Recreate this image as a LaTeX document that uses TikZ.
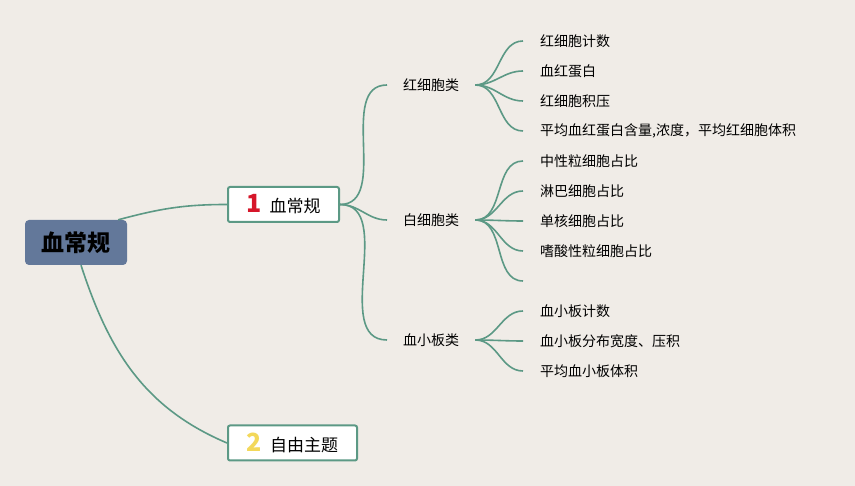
\documentclass[tikz,border=0pt]{standalone}
\usepackage{fontspec}
\setmainfont{Noto Sans CJK SC}
\usetikzlibrary{positioning}

\definecolor{bgpaper}{RGB}{240,236,231}
\definecolor{rootblue}{RGB}{99,120,154}
\definecolor{linegreen}{RGB}{92,153,133}
\definecolor{numred}{RGB}{214,22,42}
\definecolor{numyellow}{RGB}{243,216,90}

\begin{document}
\begin{tikzpicture}[
    x = 1pt, y = 1pt,
    branch/.style = {draw=linegreen, line width=1.6pt},
    rootbox/.style = {rectangle, rounded corners=4pt, fill=rootblue, minimum width=102pt, minimum height=45pt, font=\fontsize{23}{23}\selectfont\bfseries},
    topicbox/.style = {rectangle, rounded corners=2pt, draw=linegreen, line width=2pt, fill=white, minimum height=35pt, anchor=west, font=\fontsize{17}{17}\selectfont},
    catnode/.style = {inner xsep=16pt, inner ysep=2pt, anchor=west, font=\fontsize{14}{14}\selectfont},
    leafnode/.style = {inner xsep=17pt, inner ysep=2pt, anchor=west, font=\fontsize{14}{14}\selectfont}
]
    % Background
    \fill[bgpaper] (0,0) rectangle (855,486);
    \useasboundingbox (0,0) rectangle (855,486);

    % Root
    \node[rootbox] (root) at (76,243.5) {血常规};

    % Main topics
    \node[topicbox, minimum width=111pt] (topic1) at (227,281.5) {{\fontsize{25}{25}\selectfont\bfseries\color{numred}1}\hspace{8pt}血常规};
    \node[topicbox, minimum width=129pt] (topic2) at (227,43) {{\fontsize{25}{25}\selectfont\bfseries\color{numyellow}2}\hspace{8pt}自由主题};

    % Categories
    \node[catnode] (red) at (387,401) {红细胞类};
    \node[catnode] (white) at (387,266) {白细胞类};
    \node[catnode] (plt) at (387,146) {血小板类};

    % Red cell items
    \node[leafnode] (r1) at (523,445) {红细胞计数};
    \node[leafnode] (r2) at (523,415) {血红蛋白};
    \node[leafnode] (r3) at (523,385) {红细胞积压};
    \node[leafnode] (r4) at (523,355) {平均血红蛋白含量,浓度，平均红细胞体积};

    % White cell items
    \node[leafnode] (w1) at (523,325) {中性粒细胞占比};
    \node[leafnode] (w2) at (523,295) {淋巴细胞占比};
    \node[leafnode] (w3) at (523,265) {单核细胞占比};
    \node[leafnode] (w4) at (523,235) {嗜酸性粒细胞占比};
    \coordinate (w5) at (523,205);

    % Platelet items
    \node[leafnode] (p1) at (523,175) {血小板计数};
    \node[leafnode] (p2) at (523,145) {血小板分布宽度、压积};
    \node[leafnode] (p3) at (523,115) {平均血小板体积};

    % Branches
    \draw[branch] ([xshift=-9pt]root.north east) to[out=15, in=180] (topic1.west);
    \draw[branch] ([xshift=5pt]root.south) to[out=-72, in=157] (topic2.west);

    \draw[branch] (topic1.east) to[out=0, in=180] (red.west);
    \draw[branch] (topic1.east) to[out=0, in=180] (white.west);
    \draw[branch] (topic1.east) to[out=0, in=180] (plt.west);

    \draw[branch] (red.east) to[out=0, in=180] (r1.west);
    \draw[branch] (red.east) to[out=0, in=180] (r2.west);
    \draw[branch] (red.east) to[out=0, in=180] (r3.west);
    \draw[branch] (red.east) to[out=0, in=180] (r4.west);

    \draw[branch] (white.east) to[out=0, in=180] (w1.west);
    \draw[branch] (white.east) to[out=0, in=180] (w2.west);
    \draw[branch] (white.east) to[out=0, in=180] (w3.west);
    \draw[branch] (white.east) to[out=0, in=180] (w4.west);
    \draw[branch] (white.east) to[out=0, in=180] (w5);

    \draw[branch] (plt.east) to[out=0, in=180] (p1.west);
    \draw[branch] (plt.east) to[out=0, in=180] (p2.west);
    \draw[branch] (plt.east) to[out=0, in=180] (p3.west);

\end{tikzpicture}
\end{document}
